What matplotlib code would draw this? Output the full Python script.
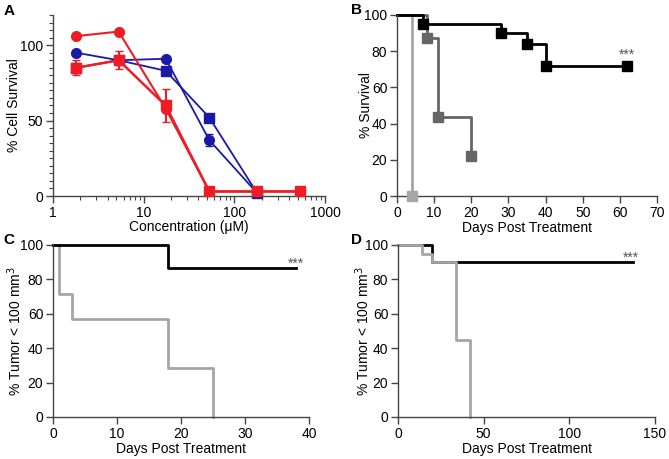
import matplotlib.pyplot as plt
from matplotlib.ticker import MultipleLocator, LogLocator, NullFormatter

plt.rcParams['font.family'] = ['Liberation Sans', 'DejaVu Sans']
plt.rcParams['font.size'] = 10

# panel A - cell survival vs concentration
conc = [1.8, 5.3, 17.5, 53, 178, 530]
blue_circ = [95, 90, 91, 37, 2]
blue_circ_err = [1, 1, 1, 4, 1]
blue_sq = [85, 90, 83, 52, 2]
red_circ = [106, 109, 58, 3, 3, 3]
red_sq = [85, 90, 60, 3, 3, 3]
red_sq_err = [5, 6, 11, 1, 1, 1]

# panel B - survival
b_blk_t = [0, 7, 28, 35, 40, 62]
b_blk_s = [100, 95, 90, 84, 72, 72]
b_dk_t = [0, 8, 11, 20]
b_dk_s = [100, 87.5, 43.75, 21.9]
b_lt_t = [0, 4]
b_lt_s = [100, 0]

# panel C - tumor
c_blk_t = [0, 18, 38]
c_blk_s = [100, 86.7, 86.7]
c_gr_t = [0, 1, 3, 18, 25]
c_gr_s = [100, 71.4, 57.1, 28.6, 0]

# panel D - tumor
d_blk_t = [0, 20, 137]
d_blk_s = [100, 90, 90]
d_gr_t = [0, 14, 20, 34, 42]
d_gr_s = [100, 95, 90, 45, 0]

BLUE = '#1a1aa6'
RED = '#ee1c24'
BLACK = '#000000'
DARK = '#666666'
LIGHT = '#a6a6a6'
AXC = '#444444'

fig = plt.figure(figsize=(6.69, 4.59), dpi=100)
axA = fig.add_axes([53/669, 1-196/459, 272/669, 181/459])
axB = fig.add_axes([397/669, 1-196/459, 260/669, 181/459])
axC = fig.add_axes([53/669, 1-417/459, 256/669, 172/459])
axD = fig.add_axes([398/669, 1-417/459, 257/669, 172/459])


def style(ax):
    for s in ['top', 'right']:
        ax.spines[s].set_visible(False)
    for s in ['left', 'bottom']:
        ax.spines[s].set_color(AXC)
        ax.spines[s].set_linewidth(1)
    ax.tick_params(which='major', direction='out', length=5, width=1, color=AXC, pad=2)
    ax.tick_params(which='minor', direction='out', length=3, width=0.8, color=AXC)


def ylab(ax, text, xfrac):
    ax.set_ylabel(text)
    ax.yaxis.set_label_coords(xfrac, 0.5)
    ax.yaxis.label.set_verticalalignment('center')


# A
n = len(blue_circ)
axA.errorbar(conc[:n], blue_circ, yerr=blue_circ_err, color=BLUE, marker='o', ms=7,
             lw=1.3, capsize=3, elinewidth=1.5, clip_on=False, zorder=3)
axA.plot(conc[:n], blue_sq, color=BLUE, marker='s', ms=7, lw=1.3, clip_on=False, zorder=3)
axA.plot(conc, red_circ, color=RED, marker='o', ms=7, lw=1.5, clip_on=False, zorder=4)
axA.errorbar(conc, red_sq, yerr=red_sq_err, color=RED, marker='s', ms=7,
             lw=1.8, capsize=3, elinewidth=1.5, clip_on=False, zorder=4)
axA.set_xscale('log')
axA.set_xlim(1, 1000)
axA.set_ylim(0, 120)
axA.set_yticks([0, 50, 100])
axA.yaxis.set_minor_locator(MultipleLocator(5))
axA.xaxis.set_minor_locator(LogLocator(base=10, subs=range(2, 10)))
axA.xaxis.set_minor_formatter(NullFormatter())
axA.set_xticks([1, 10, 100, 1000])
axA.set_xticklabels(['1', '10', '100', '1000'])
axA.set_xlabel('Concentration (μM)', labelpad=0)
ylab(axA, '% Cell Survival', (14-53)/272)
style(axA)

# B
axB.step(b_lt_t, b_lt_s, where='post', color=LIGHT, lw=2, clip_on=False)
axB.plot(b_lt_t[1:], b_lt_s[1:], 's', color=LIGHT, ms=7, clip_on=False, zorder=5)
axB.step(b_dk_t, b_dk_s, where='post', color=DARK, lw=2, clip_on=False)
axB.plot(b_dk_t[1:], b_dk_s[1:], 's', color=DARK, ms=7, clip_on=False, zorder=5)
axB.step(b_blk_t, b_blk_s, where='post', color=BLACK, lw=2, clip_on=False)
axB.plot(b_blk_t[1:], b_blk_s[1:], 's', color=BLACK, ms=7, clip_on=False, zorder=5)
axB.text(62, 74, '***', color='#555555', ha='center', va='bottom', fontsize=10)
axB.set_xlim(0, 70)
axB.set_ylim(0, 100)
axB.set_xticks(range(0, 71, 10))
axB.set_yticks(range(0, 101, 20))
axB.set_xlabel('Days Post Treatment', labelpad=1)
ylab(axB, '% Survival', (366-397)/260)
style(axB)

# C
axC.step(c_gr_t, c_gr_s, where='post', color=LIGHT, lw=2, clip_on=False)
axC.step(c_blk_t, c_blk_s, where='post', color=BLACK, lw=2, clip_on=False)
axC.text(38, 85, '***', color='#555555', ha='center', va='bottom', fontsize=10)
axC.set_xlim(0, 40)
axC.set_ylim(0, 100)
axC.set_xticks(range(0, 41, 10))
axC.set_yticks(range(0, 101, 20))
axC.set_xlabel('Days Post Treatment', labelpad=1)
ylab(axC, '% Tumor < 100 mm$^3$', (15-53)/256)
style(axC)

# D
axD.step(d_blk_t, d_blk_s, where='post', color=BLACK, lw=2, clip_on=False)
axD.step(d_gr_t, d_gr_s, where='post', color=LIGHT, lw=2, clip_on=False)
axD.text(136, 88.5, '***', color='#555555', ha='center', va='bottom', fontsize=10)
axD.set_xlim(0, 150)
axD.set_ylim(0, 100)
axD.set_xticks([0, 50, 100, 150])
axD.set_yticks(range(0, 101, 20))
axD.set_xlabel('Days Post Treatment', labelpad=1)
ylab(axD, '% Tumor < 100 mm$^3$', (363-398)/257)
style(axD)

for lab, x, y in [('A', 9, 11), ('B', 357, 10), ('C', 9, 240), ('D', 357, 240)]:
    fig.text(x/669, 1-y/459, lab, fontsize=11, fontweight='bold', ha='center', va='center')

fig.savefig('out.png', dpi=100)
